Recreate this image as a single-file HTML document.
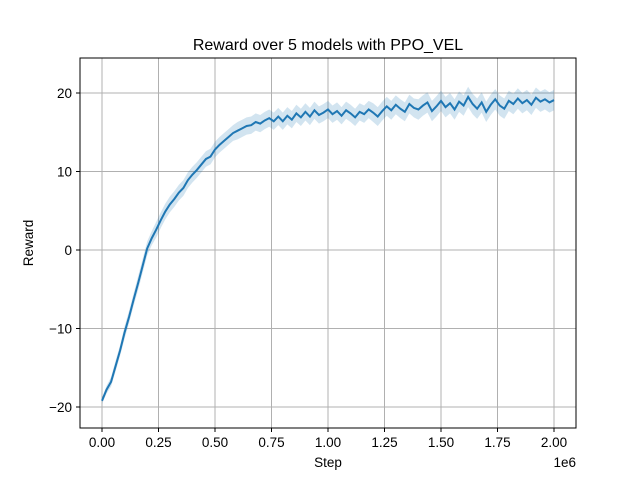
<!DOCTYPE html>
<html><head><meta charset="utf-8"><style>
body{margin:0;background:#fff;}
svg{font-family:"Liberation Sans","DejaVu Sans",sans-serif;}
</style></head><body>
<svg width="640" height="480" xmlns="http://www.w3.org/2000/svg">
<rect width="640" height="480" fill="#fff"/>
<g id="grid"></g>
<g id="band"></g>
<g id="line"></g>
<rect x="80" y="58" width="496" height="370" fill="none" stroke="#000" stroke-width="1"/>
<g id="ticks"></g>
<text x="328" y="50" font-size="16" text-anchor="middle">Reward over 5 models with PPO_VEL</text>
<text x="328" y="467" font-size="13.5" text-anchor="middle">Step</text>
<text x="33" y="243" font-size="13.5" text-anchor="middle" transform="rotate(-90 33 243)">Reward</text>
<text x="576" y="467" font-size="13.5" text-anchor="end">1e6</text>
</svg>
<script>
const xTicks=[0,0.25,0.5,0.75,1.0,1.25,1.5,1.75,2.0];
const xTickLabels=["0.00","0.25","0.50","0.75","1.00","1.25","1.50","1.75","2.00"];
const yTicks=[-20,-10,0,10,20];
const yTickLabels=["\u221220","\u221210","0","10","20"];
const stepSize=0.02;
const meanReward=[-19.2,-17.8,-16.8,-14.8,-12.8,-10.5,-8.5,-6.3,-4.2,-2.0,0.2,1.5,2.6,3.8,4.9,5.8,6.5,7.3,7.9,8.9,9.6,10.2,10.9,11.6,11.9,12.8,13.4,13.9,14.4,14.9,15.2,15.5,15.8,15.9,16.3,16.1,16.5,16.8,16.4,17.0,16.4,17.1,16.6,17.4,16.9,17.6,17.0,17.8,17.2,17.5,17.9,17.3,17.7,17.1,17.8,17.4,16.9,17.6,17.3,17.9,17.5,17.0,17.7,18.3,17.8,18.5,18.0,17.6,18.6,18.1,17.9,18.4,18.8,17.7,18.3,19.0,18.2,18.7,17.9,18.9,18.4,19.5,18.6,18.0,18.8,17.6,18.5,19.2,18.4,18.0,19.0,18.6,19.3,18.7,19.1,18.5,19.4,18.9,19.2,18.8,19.1];
const spread=[0.4,0.5,0.6,0.7,0.7,0.8,0.8,0.8,0.9,0.9,0.9,0.9,1.0,1.0,1.0,1.0,1.0,1.0,1.0,1.0,1.0,1.0,1.0,1.0,1.0,1.0,1.0,1.0,1.0,1.0,1.1,1.1,1.1,1.1,1.1,1.1,1.1,1.1,1.1,1.1,1.1,1.1,1.1,1.1,1.1,1.1,1.1,1.1,1.1,1.1,1.1,1.1,1.1,1.1,1.1,1.1,1.1,1.1,1.1,1.1,1.2,1.2,1.2,1.2,1.2,1.2,1.2,1.2,1.2,1.2,1.3,1.3,1.3,1.3,1.3,1.3,1.3,1.3,1.3,1.3,1.3,1.3,1.3,1.3,1.3,1.3,1.3,1.3,1.3,1.3,1.3,1.3,1.3,1.3,1.3,1.3,1.3,1.3,1.3,1.3,1.3];
const NS="http://www.w3.org/2000/svg";
const X=v=>102+v*226;
const Y=v=>250-v*7.85;
function mk(t,a,p){const e=document.createElementNS(NS,t);for(const k in a)e.setAttribute(k,a[k]);document.getElementById(p).appendChild(e);return e;}
xTicks.forEach((t,i)=>{
 const g=mk('line',{x1:X(t),x2:X(t),y1:58,y2:428,stroke:'#b0b0b0','stroke-width':1},'grid');
 
 
 const tk=mk('line',{x1:X(t),x2:X(t),y1:428,y2:432,stroke:'#000'},'ticks');
 
 
 const l=mk('text',{x:X(t),y:447,'font-size':13.5,'text-anchor':'middle'},'ticks');
 l.textContent=xTickLabels[i];
 
 
});
yTicks.forEach((t,i)=>{
 const g=mk('line',{x1:80,x2:576,y1:Y(t),y2:Y(t),stroke:'#b0b0b0','stroke-width':1},'grid');
 
 
 const tk=mk('line',{x1:76,x2:80,y1:Y(t),y2:Y(t),stroke:'#000'},'ticks');
 
 
 const l=mk('text',{x:72,y:Y(t)+5,'font-size':13.5,'text-anchor':'end'},'ticks');
 l.textContent=yTickLabels[i];
 
 
});
let up=[],dn=[],pts=[];
meanReward.forEach((v,i)=>{const x=X(i*stepSize);up.push(x+','+Y(v+spread[i]));dn.unshift(x+','+Y(v-spread[i]));pts.push(x+','+Y(v));});
const b=mk('polygon',{points:up.concat(dn).join(' '),fill:'#1f77b4','fill-opacity':0.2},'band');


const ln=mk('polyline',{points:pts.join(' '),fill:'none',stroke:'#1f77b4','stroke-width':2},'line');


</script>
</body></html>
